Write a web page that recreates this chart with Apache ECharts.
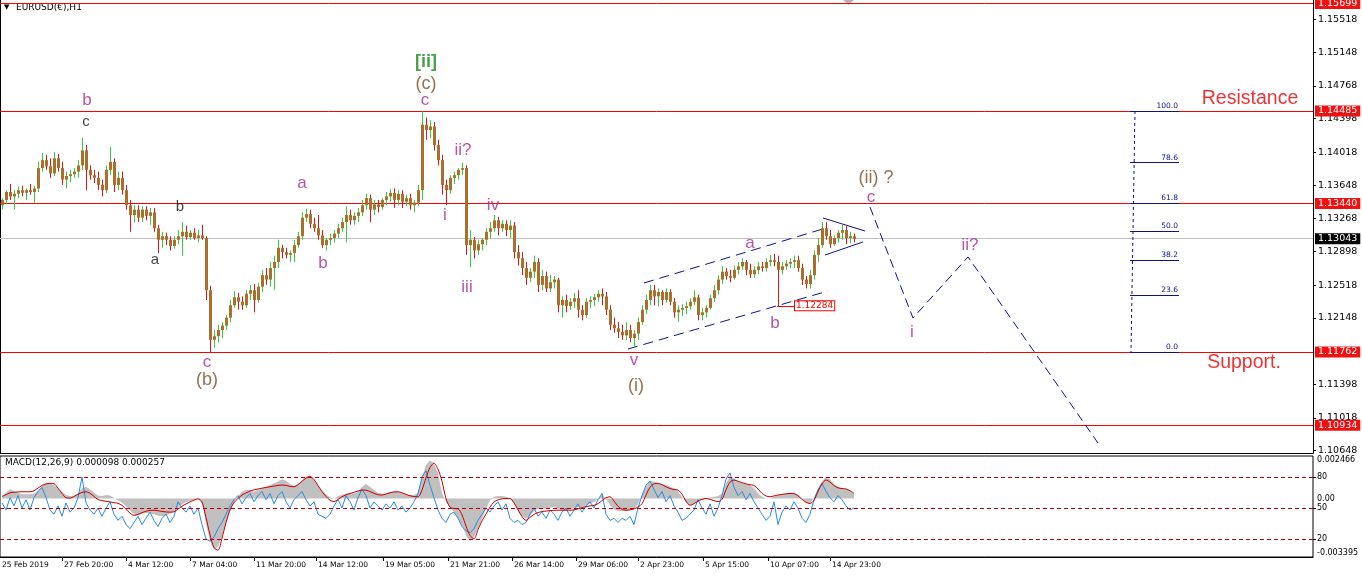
<!DOCTYPE html>
<html><head><meta charset="utf-8">
<script src="https://cdn.jsdelivr.net/npm/echarts@6/dist/echarts.min.js"></script>
<style>html,body{margin:0;padding:0;background:#fff}#c{width:1362px;height:580px}</style>
</head><body><div id="c"></div>
<script>
// ---- time scale: one unit = one hour bar of the H1 chart; candles aggregated to 4 hours
const barHours = 4;

// ---- EURUSD OHLC (4-hour aggregation of the H1 chart)
const opens = [
1.1342,1.1348,1.1357,1.1352,1.1355,1.1359,1.1356,1.1359,1.1357,1.1361,
1.1384,1.1393,1.1386,1.1378,1.1395,1.1384,1.1371,1.1375,1.1377,1.1380,
1.1387,1.1404,1.1382,1.1376,1.1373,1.1365,1.1359,1.1382,1.1391,1.1365,
1.1373,1.1359,1.1342,1.1331,1.1337,1.1328,1.1337,1.1330,1.1334,1.1316,
1.1303,1.1307,1.1303,1.1296,1.1303,1.1307,1.1312,1.1306,1.1311,1.1305,
1.1308,1.1305,1.1246,1.1190,1.1194,1.1201,1.1206,1.1215,1.1229,1.1238,
1.1233,1.1229,1.1242,1.1246,1.1235,1.1250,1.1263,1.1258,1.1271,1.1278,
1.1294,1.1289,1.1286,1.1288,1.1297,1.1307,1.1328,1.1332,1.1321,1.1316,
1.1308,1.1297,1.1303,1.1305,1.1310,1.1316,1.1323,1.1331,1.1325,1.1330,
1.1334,1.1342,1.1350,1.1337,1.1343,1.1340,1.1348,1.1352,1.1356,1.1348,
1.1355,1.1346,1.1350,1.1342,1.1345,1.1359,1.1433,1.1427,1.1431,1.1410,
1.1393,1.1365,1.1359,1.1373,1.1376,1.1382,1.1384,1.1297,1.1303,1.1291,
1.1298,1.1303,1.1312,1.1316,1.1325,1.1316,1.1321,1.1314,1.1319,1.1289,
1.1282,1.1271,1.1260,1.1267,1.1278,1.1252,1.1262,1.1248,1.1255,1.1258,
1.1229,1.1235,1.1228,1.1233,1.1237,1.1224,1.1218,1.1233,1.1235,1.1238,
1.1242,1.1239,1.1224,1.1207,1.1203,1.1199,1.1195,1.1201,1.1192,1.1197,
1.1210,1.1224,1.1235,1.1246,1.1239,1.1244,1.1235,1.1244,1.1233,1.1221,
1.1224,1.1226,1.1228,1.1233,1.1238,1.1218,1.1221,1.1226,1.1237,1.1246,
1.1258,1.1267,1.1262,1.1260,1.1269,1.1273,1.1278,1.1269,1.1264,1.1269,
1.1273,1.1271,1.1278,1.1280,1.1278,1.1269,1.1273,1.1276,1.1278,1.1280,
1.1271,1.1258,1.1253,1.1263,1.1286,1.1297,1.1316,1.1307,1.1298,1.1305,
1.1311,1.1314,1.1305,1.1307];
const closes = [
1.1348,1.1357,1.1352,1.1355,1.1359,1.1356,1.1359,1.1357,1.1361,1.1384,
1.1393,1.1386,1.1378,1.1395,1.1384,1.1371,1.1375,1.1377,1.1380,1.1387,
1.1404,1.1382,1.1376,1.1373,1.1365,1.1359,1.1382,1.1391,1.1365,1.1373,
1.1359,1.1342,1.1331,1.1337,1.1328,1.1337,1.1330,1.1334,1.1316,1.1303,
1.1307,1.1303,1.1296,1.1303,1.1307,1.1312,1.1306,1.1311,1.1305,1.1308,
1.1305,1.1246,1.1190,1.1194,1.1201,1.1206,1.1215,1.1229,1.1238,1.1233,
1.1229,1.1242,1.1246,1.1235,1.1250,1.1263,1.1258,1.1271,1.1278,1.1294,
1.1289,1.1286,1.1288,1.1297,1.1307,1.1328,1.1332,1.1321,1.1316,1.1308,
1.1297,1.1303,1.1305,1.1310,1.1316,1.1323,1.1331,1.1325,1.1330,1.1334,
1.1342,1.1350,1.1337,1.1343,1.1340,1.1348,1.1352,1.1356,1.1348,1.1355,
1.1346,1.1350,1.1342,1.1345,1.1359,1.1433,1.1427,1.1431,1.1410,1.1393,
1.1365,1.1359,1.1373,1.1376,1.1382,1.1384,1.1297,1.1303,1.1291,1.1298,
1.1303,1.1312,1.1316,1.1325,1.1316,1.1321,1.1314,1.1319,1.1289,1.1282,
1.1271,1.1260,1.1267,1.1278,1.1252,1.1262,1.1248,1.1255,1.1258,1.1229,
1.1235,1.1228,1.1233,1.1237,1.1224,1.1218,1.1233,1.1235,1.1238,1.1242,
1.1239,1.1224,1.1207,1.1203,1.1199,1.1195,1.1201,1.1192,1.1197,1.1210,
1.1224,1.1235,1.1246,1.1239,1.1244,1.1235,1.1244,1.1233,1.1221,1.1224,
1.1226,1.1228,1.1233,1.1238,1.1218,1.1221,1.1226,1.1237,1.1246,1.1258,
1.1267,1.1262,1.1260,1.1269,1.1273,1.1278,1.1269,1.1264,1.1269,1.1273,
1.1271,1.1278,1.1280,1.1278,1.1269,1.1273,1.1276,1.1278,1.1280,1.1271,
1.1258,1.1253,1.1263,1.1286,1.1297,1.1316,1.1307,1.1298,1.1305,1.1311,
1.1314,1.1305,1.1307,1.1304];
const highs = [
1.1350,1.1359,1.1366,1.1359,1.1363,1.1364,1.1361,1.1366,1.1364,1.1391,
1.1401,1.1399,1.1395,1.1402,1.1400,1.1391,1.1380,1.1382,1.1384,1.1393,
1.1418,1.1410,1.1387,1.1382,1.1380,1.1371,1.1387,1.1408,1.1395,1.1380,
1.1380,1.1365,1.1348,1.1342,1.1342,1.1341,1.1341,1.1339,1.1339,1.1320,
1.1312,1.1311,1.1307,1.1307,1.1314,1.1323,1.1319,1.1314,1.1316,1.1314,
1.1320,1.1307,1.1251,1.1201,1.1207,1.1210,1.1218,1.1235,1.1245,1.1243,
1.1239,1.1246,1.1252,1.1253,1.1254,1.1269,1.1271,1.1278,1.1285,1.1303,
1.1297,1.1294,1.1291,1.1303,1.1312,1.1334,1.1338,1.1337,1.1328,1.1331,
1.1314,1.1305,1.1310,1.1314,1.1321,1.1328,1.1341,1.1337,1.1334,1.1339,
1.1348,1.1355,1.1354,1.1348,1.1348,1.1350,1.1357,1.1360,1.1361,1.1359,
1.1359,1.1354,1.1355,1.1348,1.1365,1.1448,1.1441,1.1438,1.1436,1.1416,
1.1399,1.1371,1.1376,1.1380,1.1384,1.1390,1.1387,1.1314,1.1306,1.1303,
1.1305,1.1316,1.1323,1.1331,1.1329,1.1325,1.1325,1.1325,1.1323,1.1297,
1.1289,1.1278,1.1271,1.1285,1.1282,1.1269,1.1267,1.1263,1.1262,1.1260,
1.1239,1.1241,1.1237,1.1243,1.1246,1.1229,1.1237,1.1239,1.1242,1.1246,
1.1248,1.1244,1.1229,1.1215,1.1210,1.1207,1.1210,1.1207,1.1201,1.1215,
1.1229,1.1241,1.1252,1.1252,1.1248,1.1246,1.1248,1.1247,1.1237,1.1229,
1.1230,1.1233,1.1237,1.1246,1.1241,1.1226,1.1229,1.1241,1.1252,1.1263,
1.1273,1.1271,1.1269,1.1274,1.1278,1.1282,1.1280,1.1276,1.1273,1.1278,
1.1278,1.1282,1.1286,1.1287,1.1285,1.1278,1.1280,1.1282,1.1285,1.1285,
1.1276,1.1262,1.1269,1.1291,1.1305,1.1323,1.1323,1.1314,1.1308,1.1314,
1.1320,1.1319,1.1312,1.1310];
const lows = [
1.1337,1.1343,1.1348,1.1337,1.1350,1.1352,1.1348,1.1354,1.1345,1.1357,
1.1380,1.1382,1.1373,1.1375,1.1380,1.1365,1.1361,1.1368,1.1373,1.1373,
1.1382,1.1359,1.1371,1.1367,1.1359,1.1352,1.1356,1.1376,1.1357,1.1359,
1.1354,1.1337,1.1312,1.1323,1.1323,1.1323,1.1325,1.1320,1.1312,1.1288,
1.1294,1.1297,1.1291,1.1293,1.1298,1.1285,1.1303,1.1303,1.1303,1.1300,
1.1303,1.1235,1.1176,1.1181,1.1187,1.1192,1.1201,1.1210,1.1226,1.1224,
1.1224,1.1226,1.1235,1.1221,1.1232,1.1244,1.1252,1.1250,1.1246,1.1271,
1.1282,1.1282,1.1278,1.1278,1.1294,1.1303,1.1323,1.1316,1.1312,1.1303,
1.1294,1.1291,1.1297,1.1300,1.1305,1.1312,1.1300,1.1320,1.1320,1.1323,
1.1330,1.1337,1.1323,1.1331,1.1334,1.1337,1.1342,1.1346,1.1339,1.1342,
1.1339,1.1341,1.1337,1.1334,1.1341,1.1348,1.1416,1.1418,1.1404,1.1387,
1.1354,1.1342,1.1355,1.1366,1.1371,1.1376,1.1286,1.1272,1.1282,1.1286,
1.1291,1.1297,1.1305,1.1312,1.1308,1.1312,1.1307,1.1305,1.1282,1.1274,
1.1263,1.1252,1.1255,1.1260,1.1244,1.1246,1.1244,1.1244,1.1248,1.1221,
1.1215,1.1221,1.1224,1.1226,1.1215,1.1212,1.1215,1.1226,1.1228,1.1233,
1.1229,1.1218,1.1201,1.1198,1.1192,1.1190,1.1190,1.1187,1.1181,1.1190,
1.1207,1.1219,1.1229,1.1229,1.1228,1.1229,1.1232,1.1229,1.1215,1.1210,
1.1217,1.1219,1.1224,1.1229,1.1212,1.1212,1.1215,1.1224,1.1233,1.1241,
1.1253,1.1258,1.1255,1.1258,1.1264,1.1269,1.1263,1.1260,1.1260,1.1264,
1.1267,1.1267,1.1273,1.1273,1.1228,1.1264,1.1269,1.1271,1.1271,1.1267,
1.1252,1.1248,1.1248,1.1258,1.1278,1.1294,1.1303,1.1294,1.1296,1.1300,
1.1303,1.1298,1.1299,1.1300];

// ---- MACD(12,26,9) window: main (histogram), signal, and the 0-100 oscillator line
const macdMain = [
0.00014,0.00033,0.00053,0.00045,0.00033,0.00025,0.00025,0.00025,0.00029,0.00045,
0.00072,0.00092,0.00088,0.00078,0.00059,0.00039,0.00020,0.00014,0.00014,0.00029,
0.00059,0.00068,0.00053,0.00033,0.00018,0.00014,0.00020,0.00018,0.00004,-0.00010,
-0.00025,-0.00045,-0.00068,-0.00092,-0.00100,-0.00088,-0.00084,-0.00084,-0.00092,-0.00100,
-0.00103,-0.00098,-0.00088,-0.00072,-0.00053,-0.00033,-0.00020,-0.00014,-0.00010,-0.00002,
-0.00029,-0.00146,-0.00248,-0.00298,-0.00279,-0.00224,-0.00150,-0.00078,-0.00025,0.00014,
0.00039,0.00049,0.00049,0.00039,0.00049,0.00059,0.00068,0.00078,0.00088,0.00098,
0.00111,0.00103,0.00084,0.00072,0.00084,0.00103,0.00127,0.00135,0.00111,0.00078,
0.00049,0.00025,0.00006,-0.00002,0.00014,0.00021,0.00029,0.00029,0.00029,0.00039,
0.00068,0.00084,0.00068,0.00049,0.00033,0.00029,0.00029,0.00039,0.00039,0.00039,
0.00033,0.00025,0.00020,0.00021,0.00033,0.00123,0.00195,0.00220,0.00205,0.00146,
0.00029,-0.00020,-0.00049,-0.00078,-0.00117,-0.00156,-0.00215,-0.00248,-0.00224,-0.00176,
-0.00117,-0.00059,-0.00010,0.00010,0.00014,0.00014,0.00010,0.00000,-0.00029,-0.00072,
-0.00103,-0.00117,-0.00098,-0.00072,-0.00059,-0.00059,-0.00059,-0.00053,-0.00049,-0.00059,
-0.00068,-0.00068,-0.00064,-0.00053,-0.00049,-0.00049,-0.00039,-0.00029,-0.00020,-0.00006,
0.00025,0.00000,-0.00039,-0.00064,-0.00072,-0.00072,-0.00072,-0.00068,-0.00059,-0.00033,
0.00020,0.00068,0.00103,0.00098,0.00088,0.00084,0.00078,0.00068,0.00059,0.00039,
0.00010,-0.00025,-0.00039,-0.00029,-0.00020,-0.00010,0.00000,0.00006,0.00010,0.00014,
0.00029,0.00088,0.00127,0.00117,0.00098,0.00088,0.00084,0.00078,0.00059,0.00029,
0.00010,0.00000,0.00000,0.00010,0.00020,0.00025,0.00029,0.00033,0.00033,0.00025,
0.00000,-0.00025,-0.00029,0.00006,0.00049,0.00098,0.00127,0.00111,0.00084,0.00068,
0.00059,0.00053,0.00045,0.00029];
const macdSignal = [
0.00012,0.00022,0.00033,0.00036,0.00038,0.00039,0.00039,0.00039,0.00045,0.00060,
0.00076,0.00084,0.00088,0.00086,0.00060,0.00030,0.00004,0.00002,0.00012,0.00025,
0.00035,0.00039,0.00030,0.00012,-0.00006,-0.00012,-0.00016,-0.00020,-0.00024,-0.00028,
-0.00040,-0.00062,-0.00085,-0.00098,-0.00092,-0.00082,-0.00074,-0.00069,-0.00068,-0.00071,
-0.00075,-0.00078,-0.00079,-0.00077,-0.00062,-0.00045,-0.00032,-0.00020,-0.00010,-0.00002,
-0.00020,-0.00110,-0.00210,-0.00285,-0.00300,-0.00230,-0.00140,-0.00065,-0.00025,0.00000,
0.00020,0.00032,0.00043,0.00050,0.00055,0.00060,0.00064,0.00068,0.00072,0.00076,
0.00078,0.00076,0.00070,0.00068,0.00080,0.00100,0.00118,0.00127,0.00110,0.00075,
0.00040,0.00012,-0.00010,-0.00018,-0.00005,0.00010,0.00022,0.00029,0.00036,0.00043,
0.00049,0.00048,0.00040,0.00030,0.00022,0.00020,0.00026,0.00033,0.00038,0.00039,
0.00033,0.00024,0.00016,0.00011,0.00010,0.00050,0.00120,0.00180,0.00205,0.00170,
0.00100,0.00000,-0.00050,-0.00058,-0.00060,-0.00095,-0.00160,-0.00215,-0.00234,-0.00180,
-0.00130,-0.00090,-0.00050,-0.00020,-0.00008,-0.00002,0.00000,0.00000,-0.00025,-0.00065,
-0.00105,-0.00127,-0.00110,-0.00092,-0.00082,-0.00076,-0.00073,-0.00070,-0.00069,-0.00068,
-0.00068,-0.00068,-0.00068,-0.00066,-0.00060,-0.00053,-0.00047,-0.00043,-0.00040,-0.00030,
-0.00012,0.00004,0.00010,-0.00015,-0.00045,-0.00062,-0.00068,-0.00066,-0.00060,-0.00050,
-0.00030,0.00020,0.00065,0.00085,0.00088,0.00080,0.00068,0.00058,0.00052,0.00049,
0.00025,-0.00015,-0.00039,-0.00030,-0.00015,-0.00005,0.00000,-0.00005,-0.00012,-0.00018,
-0.00005,0.00050,0.00095,0.00107,0.00100,0.00092,0.00085,0.00080,0.00076,0.00055,
0.00030,0.00015,0.00010,0.00015,0.00020,0.00024,0.00027,0.00029,0.00028,0.00015,
-0.00005,-0.00022,-0.00029,-0.00010,0.00040,0.00085,0.00107,0.00095,0.00075,0.00062,
0.00058,0.00055,0.00045,0.00030];
const oscLine = [
55,48,60,52,62,50,58,48,60,66, 70,60,48,44,52,42,55,46,50,60,
80,55,48,44,50,42,50,56,44,38, 42,34,30,36,42,34,40,46,38,32,
40,44,36,42,56,50,46,52,44,50, 34,20,18,22,30,36,44,52,58,62,
54,60,64,56,62,66,58,64,54,62, 66,56,50,58,62,66,58,52,56,44,
42,40,44,52,58,50,62,56,48,60, 68,62,50,56,52,48,54,50,56,48,
52,46,50,56,64,80,86,72,60,48, 40,36,44,46,40,32,28,26,30,38,
44,50,46,52,56,48,54,40,36,38, 34,36,44,50,42,46,40,48,44,38,
46,50,42,48,54,46,52,56,50,58, 64,44,38,40,36,40,38,42,34,50,
62,72,76,68,60,66,56,62,52,46, 38,40,44,48,58,50,44,54,42,50,
62,78,84,70,62,66,58,64,56,50, 44,38,42,56,34,46,52,48,56,50,
40,36,44,58,68,74,66,60,56,62, 58,52,48,50];
const oscLevels = [20, 50, 80];

// ---- axes
const xTickHours  = [0, 62, 126, 190, 254, 316, 383, 448, 512, 576, 638, 703, 768, 830];
const xTickLabels = ['25 Feb 2019','27 Feb 20:00','4 Mar 12:00','7 Mar 04:00','11 Mar 20:00','14 Mar 12:00',
  '19 Mar 05:00','21 Mar 21:00','26 Mar 14:00','29 Mar 06:00','2 Apr 23:00','5 Apr 15:00','10 Apr 07:00','14 Apr 23:00'];
const priceTicks = [1.15518,1.15148,1.14768,1.14398,1.14018,1.13648,1.13268,1.12898,1.12518,1.12148,1.11398,1.11018,1.10648];
const priceRange = [1.10621, 1.15739];
const macdRange = [-0.003395, 0.002466];
const macdTicks = [-0.003395, 0, 0.002466];
const oscRange = [2.6, 100.3];
const timeRange = [0, 1313];

// ---- horizontal levels
const srLevels = [1.15699, 1.14485, 1.13440, 1.11762, 1.10934];
const bidPrice = 1.13043;
const bLowPrice = 1.12284;
const bLowTime = 777, bLowTagTime = 795;

// ---- fibonacci retracement
const fibHigh = 1.14485, fibLow = 1.11762;
const fibRatios = [100.0, 78.6, 61.8, 50.0, 38.2, 23.6, 0.0];
const fibTime = [1130, 1179];
const fibAxisTime = [1135, 1131];

// ---- trend lines (time, price)
const channelUpper = [[644, 1.12542], [826, 1.13163]];
const channelLower = [[628, 1.11796], [828, 1.12451]];
const triangleUpper = [[823, 1.13276], [865, 1.13129]];
const triangleLower = [[825, 1.12858], [863, 1.13005]];
const projection = [[870, 1.13400], [913, 1.12146], [968, 1.12836], [1098, 1.10734]];

// ---- wave labels (time, price, text)
const waveMagenta = [[87,1.14609,'b'],[207,1.11648,'c'],[302,1.13671,'a'],[323,1.12767,'b'],[425,1.14609,'c'],
  [463,1.14044,'ii?'],[445,1.13310,'i'],[467,1.12496,'iii'],[493,1.13423,'iv'],[634,1.11671,'v'],
  [750,1.12993,'a'],[775,1.12089,'b'],[871,1.13513,'c'],[912,1.11987,'i'],[970,1.12971,'ii?']];
const waveBlack = [[86,1.14360,'c'],[180,1.13400,'b'],[155,1.12801,'a']];
const waveBrown = [[207,1.11445,'(b)'],[426,1.14790,'(c)'],[636,1.11377,'(i)'],[876,1.13728,'(ii) ?']];
const waveGreen = [[426,1.15038,'[ii]']];
const zoneLabels = [[1250,1.14620,'Resistance'],[1244,1.11637,'Support.']];

// ================= build =================
const mid = barHours / 2;
const candleData = opens.map((o, i) => [i * barHours + mid, o, closes[i], lows[i], highs[i]]);
const histData = macdMain.map((v, i) => [i * barHours + mid, v]);
const sigData = macdSignal.map((v, i) => [i * barHours + mid, v]);
const oscData = oscLine.map((v, i) => [i * barHours + mid, v]);

const MAG = '#a8288f', BROWN = '#7c4e24', GREEN = '#1a8a1a', NAVY = '#10108c', RED = '#ff0000';
const BAR_UP = '#3cc83c', BAR_DN = '#e01414', BODY = '#a8702c';
const tickFont = 'DejaVu Sans';
const labelFont = 'Liberation Sans, Arial, sans-serif';

function renderCandle(params, api) {
  const x = api.value(0), o = api.value(1), c = api.value(2), l = api.value(3), h = api.value(4);
  const pH = api.coord([x, h]), pL = api.coord([x, l]), pO = api.coord([x, o]), pC = api.coord([x, c]);
  const xc = Math.round(pH[0]) + 0.5;
  const top = Math.min(pO[1], pC[1]), bot = Math.max(pO[1], pC[1]);
  return {
    type: 'group', children: [
      { type: 'line', shape: { x1: xc, y1: pH[1], x2: xc, y2: pL[1] },
        style: { stroke: c >= o ? BAR_UP : BAR_DN, lineWidth: 1 } },
      { type: 'rect', shape: { x: xc - 1.5, y: top, width: 3, height: Math.max(1, bot - top) },
        style: { fill: BODY } }
    ]
  };
}

function textSeries(list, color, size, weight) {
  return {
    type: 'scatter', xAxisIndex: 0, yAxisIndex: 0, symbolSize: 1, silent: true, z: 10,
    itemStyle: { color: 'rgba(0,0,0,0)' },
    data: list.map(d => ({ value: [d[0], d[1]], name: d[2] })),
    label: { show: true, position: 'inside', formatter: '{b}', color: color, fontSize: size,
      fontFamily: labelFont, fontWeight: weight || 'normal' }
  };
}
function seg(pair, style) {
  return [{ coord: pair[0], lineStyle: style }, { coord: pair[1] }];
}

const fibSpan = fibHigh - fibLow;
const fibLines = fibRatios.map(r => {
  const p = fibLow + fibSpan * r / 100;
  return [{ coord: [fibTime[0], p], lineStyle: { color: NAVY, width: 1, type: 'solid' },
            label: { show: true, position: 'insideEndTop', formatter: r.toFixed(1), color: NAVY,
                     fontSize: 7.5, fontFamily: tickFont, distance: 1 } },
          { coord: [fibTime[1], p] }];
});
const priceTag = (v, bg, fg) => ({ show: true, position: 'end', distance: 2, formatter: v.toFixed(5), color: fg,
  backgroundColor: bg, padding: [1, 3, 0, 3], fontSize: 9.5, fontFamily: tickFont });
const levelLine = (v, color, bg) => [
  { coord: [timeRange[0], v], lineStyle: { color: color, width: 1, type: 'solid', opacity: 1 },
    label: priceTag(v, bg, '#fff') },
  { coord: [timeRange[1], v] }];

const chart = echarts.init(document.getElementById('c'), null, { renderer: 'canvas' });
chart.setOption({
  animation: false,
  backgroundColor: '#ffffff',
  grid: [
    { left: 0, right: 49, top: 0, height: 453, show: false, outerBoundsMode: 'none', containLabel: false },
    { left: 0, right: 49, top: 456, height: 101, show: true, borderColor: '#000', borderWidth: 1,
      backgroundColor: 'transparent', outerBoundsMode: 'none', containLabel: false }
  ],
  xAxis: [
    { type: 'value', gridIndex: 0, min: timeRange[0], max: timeRange[1], splitLine: { show: false },
      axisLine: { show: true, onZero: false, lineStyle: { color: '#000', width: 1 } },
      axisTick: { show: false }, axisLabel: { show: false } },
    { type: 'value', gridIndex: 1, min: timeRange[0], max: timeRange[1], splitLine: { show: false },
      axisLine: { show: true, onZero: false, lineStyle: { color: '#000', width: 1 } },
      axisTick: { show: true, length: 4, customValues: xTickHours.slice(1), lineStyle: { color: '#000' } },
      axisLabel: { show: true, customValues: xTickHours, align: 'left', margin: 4, padding: [0, 0, 0, 2],
        formatter: v => { const k = xTickHours.indexOf(v); return k >= 0 ? xTickLabels[k] : ''; },
        color: '#000', fontSize: 7.5, fontFamily: tickFont } }
  ],
  yAxis: [
    { type: 'value', gridIndex: 0, position: 'right', min: priceRange[0], max: priceRange[1],
      splitLine: { show: false },
      axisLine: { show: true, onZero: false, lineStyle: { color: '#000', width: 1 } },
      axisTick: { show: true, length: 3, customValues: priceTicks, lineStyle: { color: '#000' } },
      axisLabel: { show: true, customValues: priceTicks, margin: 5, formatter: v => v.toFixed(5),
        color: '#000', fontSize: 9.5, fontFamily: tickFont } },
    { type: 'value', gridIndex: 0, position: 'left', min: priceRange[0], max: priceRange[1],
      splitLine: { show: false }, axisTick: { show: false }, axisLabel: { show: false },
      axisLine: { show: true, onZero: false, lineStyle: { color: '#000', width: 1 } } },
    { type: 'value', gridIndex: 1, position: 'right', min: macdRange[0], max: macdRange[1],
      splitLine: { show: false }, axisLine: { show: false }, axisTick: { show: false },
      axisLabel: { show: true, customValues: macdTicks, margin: 4,
        formatter: v => (v === 0 ? '0.00' : v.toFixed(6)),
        verticalAlignMinLabel: 'bottom', verticalAlignMaxLabel: 'top',
        color: '#000', fontSize: 8, fontFamily: tickFont } },
    { type: 'value', gridIndex: 1, position: 'right', min: oscRange[0], max: oscRange[1],
      splitLine: { show: false }, axisLine: { show: false },
      axisTick: { show: true, length: 3, customValues: oscLevels, lineStyle: { color: '#000' } },
      axisLabel: { show: true, customValues: oscLevels, margin: 4, formatter: v => String(v),
        color: '#000', fontSize: 8, fontFamily: tickFont } }
  ],
  graphic: [
    { type: 'text', left: 4, top: 4, style: { text: '\u25BC', fill: '#000', font: '7px DejaVu Sans' } },
    { type: 'text', left: 16, top: 3, style: { text: 'EURUSD(\u20AC),H1', fill: '#000', font: '9px DejaVu Sans' } },
    { type: 'text', left: 5, top: 458, style: { text: 'MACD(12,26,9) 0.000098 0.000257', fill: '#000', font: '9px DejaVu Sans' } },
    { type: 'polygon', shape: { points: [[843, 0], [854, 0], [848.5, 5]] }, style: { fill: '#b4b4b4' } }
  ],
  series: [
    {
      type: 'line', name: 'levels', xAxisIndex: 0, yAxisIndex: 0, data: [], symbol: 'none', z: 3,
      markLine: {
        silent: true, symbol: ['none', 'none'], precision: 6,
        data: [
          levelLine(bidPrice, '#c0c0c0', '#000'),
          ...srLevels.map(v => levelLine(v, RED, '#f01010'))
        ]
      }
    },
    {
      type: 'custom', name: 'EURUSD', xAxisIndex: 0, yAxisIndex: 0, z: 5,
      data: candleData, encode: { x: 0, y: [1, 2, 3, 4] }, renderItem: renderCandle, silent: true
    },
    {
      type: 'line', name: 'trendlines', xAxisIndex: 0, yAxisIndex: 0, data: [], symbol: 'none', z: 6,
      markLine: {
        silent: true, symbol: ['none', 'none'], precision: 6,
        label: { show: false },
        data: [
          seg(channelUpper, { color: NAVY, width: 1, type: [10, 6] }),
          seg(channelLower, { color: NAVY, width: 1, type: [10, 6] }),
          seg(triangleUpper, { color: NAVY, width: 1, type: 'solid' }),
          seg(triangleLower, { color: NAVY, width: 1, type: 'solid' }),
          [{ coord: [fibAxisTime[0], fibHigh], lineStyle: { color: NAVY, width: 1, type: [3, 3] } },
           { coord: [fibAxisTime[1], fibLow] }],
          ...fibLines,
          [{ coord: [bLowTime, bLowPrice], lineStyle: { color: RED, width: 1, type: 'solid' },
             label: { show: true, position: 'end', distance: 0, formatter: bLowPrice.toFixed(5), color: RED,
               backgroundColor: '#fff', borderColor: RED, borderWidth: 1, padding: [0, 1, 0, 1],
               fontSize: 9, fontFamily: tickFont } },
           { coord: [bLowTagTime, bLowPrice] }]
        ]
      }
    },
    {
      type: 'line', name: 'projection', xAxisIndex: 0, yAxisIndex: 0, data: projection, symbol: 'none', z: 6,
      lineStyle: { color: NAVY, width: 1, type: [9, 5] }, silent: true
    },
    textSeries(waveMagenta, MAG, 17),
    textSeries(waveBlack, '#111', 15),
    textSeries(waveBrown, BROWN, 18),
    textSeries(waveGreen, GREEN, 18, 'bold'),
    textSeries(zoneLabels, '#e80000', 19.5),
    {
      type: 'line', name: 'MACD', xAxisIndex: 1, yAxisIndex: 2, data: histData, symbol: 'none',
      lineStyle: { width: 0 }, areaStyle: { color: '#c0c0c0', opacity: 1 }, silent: true, z: 2
    },
    {
      type: 'line', name: 'Signal', xAxisIndex: 1, yAxisIndex: 2, data: sigData, symbol: 'none', smooth: 0.3,
      lineStyle: { color: '#d00000', width: 1 }, silent: true, z: 4
    },
    {
      type: 'line', name: 'Oscillator', xAxisIndex: 1, yAxisIndex: 3, data: oscData, symbol: 'none',
      lineStyle: { color: '#2a8be0', width: 1 }, silent: true, z: 3,
      markLine: { silent: true, symbol: ['none', 'none'], label: { show: false },
        lineStyle: { color: '#c00000', width: 1, type: [4, 3] },
        data: oscLevels.map(v => ({ yAxis: v })) }
    }
  ]
});
</script></body></html>
